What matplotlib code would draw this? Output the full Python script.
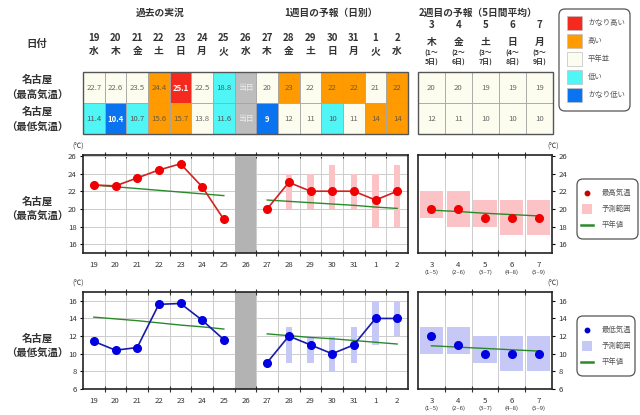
import numpy as np
import matplotlib
matplotlib.use("Agg")
import matplotlib.pyplot as plt
import matplotlib.transforms as mtransforms
from matplotlib.patches import Rectangle, FancyBboxPatch

plt.rcParams['font.family'] = ['Noto Sans CJK JP', 'DejaVu Sans']

nan = np.nan

# dates (daily part)
days = ['19', '20', '21', '22', '23', '24', '25', '26', '27', '28', '29', '30', '31', '1', '2']
weekdays = ['水', '木', '金', '土', '日', '月', '火', '水', '木', '金', '土', '日', '月', '火', '水']
# dates (2nd week, 5-day means)
w2_days = ['3', '4', '5', '6', '7']
w2_weekdays = ['木', '金', '土', '日', '月']
w2_periods = ['(1～\n5日)', '(2～\n6日)', '(3～\n7日)', '(4～\n8日)', '(5～\n9日)']
w2_ticks_sub = ['(1–5)', '(2–6)', '(3–7)', '(4–8)', '(5–9)']

# table values + classes
max_table = ['22.7', '22.6', '23.5', '24.4', '25.1', '22.5', '18.8', '当日', '20', '23', '22', '22', '22', '21', '22']
max_class = ['n', 'n', 'n', 'h', 'vh', 'n', 'l', 't', 'n', 'h', 'n', 'h', 'h', 'n', 'h']
min_table = ['11.4', '10.4', '10.7', '15.6', '15.7', '13.8', '11.6', '当日', '9', '12', '11', '10', '11', '14', '14']
min_class = ['l', 'vl', 'l', 'h', 'h', 'n', 'l', 't', 'vl', 'n', 'n', 'l', 'n', 'h', 'h']
w2_max_table = ['20', '20', '19', '19', '19']
w2_min_table = ['12', '11', '10', '10', '10']

# chart: max temperature
tmax = [22.7, 22.6, 23.5, 24.4, 25.1, 22.5, 18.8, nan, 20, 23, 22, 22, 22, 21, 22]
tmax_norm = [22.7, 22.5, 22.3, 22.1, 21.9, 21.7, 21.5, nan, 21.0, 20.85, 20.7, 20.55, 20.4, 20.2, 20.05]
tmax_lo = [nan, nan, nan, nan, nan, nan, nan, nan, nan, 20, 20, 20, 20, 18, 18]
tmax_hi = [nan, nan, nan, nan, nan, nan, nan, nan, nan, 24, 24, 25, 24, 24, 25]
w2_max = [20, 20, 19, 19, 19]
w2_max_lo = [19, 18, 18, 17, 17]
w2_max_hi = [22, 22, 21, 21, 21]
w2_max_norm = [19.85, 19.7, 19.5, 19.35, 19.2]

# chart: min temperature
tmin = [11.4, 10.4, 10.7, 15.6, 15.7, 13.8, 11.6, nan, 9, 12, 11, 10, 11, 14, 14]
tmin_norm = [14.15, 13.95, 13.75, 13.5, 13.25, 13.05, 12.8, nan, 12.25, 12.05, 11.85, 11.7, 11.5, 11.3, 11.1]
tmin_lo = [nan, nan, nan, nan, nan, nan, nan, nan, nan, 9, 9, 8, 9, 11, 12]
tmin_hi = [nan, nan, nan, nan, nan, nan, nan, nan, nan, 13, 12, 12, 13, 16, 16]
w2_min = [12, 11, 10, 10, 10]
w2_min_lo = [10, 10, 9, 8, 8]
w2_min_hi = [13, 13, 12, 12, 12]
w2_min_norm = [10.9, 10.75, 10.6, 10.45, 10.3]

legend_names = ['かなり高い', '高い', '平年並', '低い', 'かなり低い']
legend_cls = ['vh', 'h', 'n', 'l', 'vl']

cls_color = {'vh': '#f52a1f', 'h': '#ff9b00', 'n': '#fdfdef', 'l': '#50f5f5', 'vl': '#0a74f0', 't': '#bdbdbd'}
cls_text = {'vh': 'white', 'h': '#6a5a3a', 'n': '#666666', 'l': '#555555', 'vl': 'white', 't': '#eeeeee'}
GREEN = '#2a8a2a'
TXT = '#333333'

W, H = 640, 415
fig = plt.figure(figsize=(6.4, 4.15), dpi=100)


def px_axes(x0, y0, x1, y1):
    return fig.add_axes([x0 / W, 1 - y1 / H, (x1 - x0) / W, (y1 - y0) / H])


# overlay in pixel coords for free texts
ov = fig.add_axes([0, 0, 1, 1])
ov.set_xlim(0, W)
ov.set_ylim(H, 0)
ov.axis('off')


def draw_table(ax, rows, classes, n):
    ax.set_xlim(-0.5, n - 0.5)
    ax.set_ylim(2, 0)
    ax.axis('off')
    for r in range(2):
        for i in range(n):
            c = classes[r][i]
            ax.add_patch(Rectangle((i - 0.5, r), 1, 1, fc=cls_color[c], ec='#a5a5a5', lw=0.6))
            bold = c in ('vh', 'vl')
            ax.text(i, r + 0.52, rows[r][i], ha='center', va='center', fontsize=5.6,
                    color=cls_text[c], weight='bold' if bold else 'normal')
    ax.add_patch(Rectangle((-0.5, 0), n, 2, fill=False, ec='#555555', lw=1.0, clip_on=False))


# ---- tables ----
tb = px_axes(83, 72, 408, 134)
draw_table(tb, [max_table, min_table], [max_class, min_class], len(days))
tb2 = px_axes(418, 72, 553, 134)
draw_table(tb2, [w2_max_table, w2_min_table], [['n'] * 5, ['n'] * 5], len(w2_days))

tr1 = mtransforms.blended_transform_factory(tb.transData, ov.transData)
for i, (d, wd) in enumerate(zip(days, weekdays)):
    ov.text(i, 38, d, transform=tr1, ha='center', va='center', fontsize=7, weight='bold', color=TXT)
    ov.text(i, 51, wd, transform=tr1, ha='center', va='center', fontsize=7, weight='bold', color=TXT)

tr2 = mtransforms.blended_transform_factory(tb2.transData, ov.transData)
for i, (d, wd, p) in enumerate(zip(w2_days, w2_weekdays, w2_periods)):
    ov.text(i, 25, d, transform=tr2, ha='center', va='center', fontsize=7, weight='bold', color=TXT)
    ov.text(i, 42, wd, transform=tr2, ha='center', va='center', fontsize=7, weight='bold', color=TXT)
    ov.text(i, 58, p, transform=tr2, ha='center', va='center', fontsize=5, weight='bold', color=TXT,
            linespacing=1.3)

ov.text(160, 13, '過去の実況', ha='center', va='center', fontsize=7, weight='bold', color=TXT)
ov.text(331, 13, '1週目の予報（日別）', ha='center', va='center', fontsize=7, weight='bold', color=TXT)
ov.text(478, 13, '2週目の予報（5日間平均）', ha='center', va='center', fontsize=7, weight='bold', color=TXT)
ov.text(37, 44, '日付', ha='center', va='center', fontsize=7.5, weight='bold', color=TXT)
ov.text(37, 80, '名古屋', ha='center', va='center', fontsize=7.5, weight='bold', color=TXT)
ov.text(37, 95, '（最高気温）', ha='center', va='center', fontsize=7.5, weight='bold', color=TXT)
ov.text(37, 112, '名古屋', ha='center', va='center', fontsize=7.5, weight='bold', color=TXT)
ov.text(37, 127, '（最低気温）', ha='center', va='center', fontsize=7.5, weight='bold', color=TXT)
ov.text(37, 202, '名古屋', ha='center', va='center', fontsize=7.5, weight='bold', color=TXT)
ov.text(37, 216, '（最高気温）', ha='center', va='center', fontsize=7.5, weight='bold', color=TXT)
ov.text(37, 339, '名古屋', ha='center', va='center', fontsize=7.5, weight='bold', color=TXT)
ov.text(37, 353, '（最低気温）', ha='center', va='center', fontsize=7.5, weight='bold', color=TXT)

# colour legend
lg = px_axes(558, 8, 631, 112)
lg.set_xlim(0, 73)
lg.set_ylim(104, 0)
lg.axis('off')
lg.add_patch(FancyBboxPatch((1, 1), 71, 102, boxstyle='round,pad=0,rounding_size=6',
                            fc='white', ec='#555555', lw=0.9))
for k, (name, c) in enumerate(zip(legend_names, legend_cls)):
    yc = 15 + k * 18
    lg.add_patch(Rectangle((9, yc - 7), 15, 14, fc=cls_color[c], ec='#c0c0c0', lw=0.5))
    lg.text(30, yc, name, ha='left', va='center', fontsize=5.3, color='#555555')


# ---- charts ----
def style_axes(ax, n):
    x = np.arange(n)
    ax.set_xlim(-0.5, n - 0.5)
    ax.set_xticks(x)
    ax.set_xticks(np.arange(0.5, n - 0.5, 1), minor=True)
    ax.tick_params(axis='x', which='major', length=0, labelsize=5.6, pad=6, labelcolor=TXT)
    ax.tick_params(axis='x', which='minor', length=5, direction='inout', top=True, bottom=True,
                   width=0.8, color='#333333')
    ax.tick_params(axis='y', length=2.5, labelsize=5.6, pad=2, labelcolor=TXT, width=0.8)
    ax.grid(which='minor', axis='x', color='#cccccc', lw=0.7)
    for s in ax.spines.values():
        s.set_linewidth(1.2)
        s.set_color('#222222')
    ax.set_axisbelow(True)


def draw_daily(ax, vals, norm, lo, hi, line_c, mark_c, rng_c, ylim, yticks):
    x = np.arange(len(days))
    lo = np.array(lo)
    hi = np.array(hi)
    today = max_table.index('当日')
    ax.axvspan(today - 0.47, today + 0.47, color='#b3b3b3', lw=0, zorder=2)
    ax.bar(x, hi - lo, bottom=lo, width=0.28, color=rng_c, zorder=2)
    ax.plot(x, norm, color=GREEN, lw=1.0, zorder=3)
    ax.plot(x, vals, color=line_c, lw=1.2, marker='o', ms=5.5, mfc=mark_c, mec=mark_c, zorder=4)
    ax.set_ylim(*ylim)
    ax.set_yticks(yticks)
    style_axes(ax, len(days))
    ax.set_xticklabels(days)
    ax.grid(which='major', axis='y', color='#cccccc', lw=0.7)


def draw_week2(ax, vals, norm, lo, hi, mark_c, rng_c, ylim, yticks):
    x = np.arange(len(w2_days))
    lo = np.array(lo)
    hi = np.array(hi)
    ax.bar(x, hi - lo, bottom=lo, width=0.86, color=rng_c, zorder=2)
    ax.plot(x, norm, color=GREEN, lw=1.0, zorder=3)
    ax.plot(x, vals, ls='none', marker='o', ms=5.5, mfc=mark_c, mec=mark_c, zorder=4)
    ax.set_ylim(*ylim)
    ax.set_yticks(yticks)
    style_axes(ax, len(w2_days))
    ax.yaxis.tick_right()
    ax.set_xticklabels(w2_days)
    tr = mtransforms.blended_transform_factory(ax.transData, ax.transAxes)
    for i, s in enumerate(w2_ticks_sub):
        ax.text(i, -0.195, s, transform=tr, ha='center', va='center', fontsize=4.3, color=TXT)


def draw_chart_legend(box, mark_c, rng_c, label):
    x0, y0, x1, y1 = box
    la = px_axes(x0, y0, x1, y1)
    w, h = x1 - x0, y1 - y0
    la.set_xlim(0, w)
    la.set_ylim(h, 0)
    la.axis('off')
    la.add_patch(FancyBboxPatch((1, 1), w - 2, h - 2, boxstyle='round,pad=0,rounding_size=6',
                                fc='white', ec='#555555', lw=0.9))
    la.plot([11], [15], 'o', ms=3.2, color=mark_c)
    la.add_patch(Rectangle((6, 26), 10, 10, fc=rng_c, ec='none'))
    la.plot([5, 17], [47, 47], color=GREEN, lw=1.8)
    for yy, t in zip([15, 31, 47], [label, '予測範囲', '平年値']):
        la.text(26, yy, t, ha='left', va='center', fontsize=5.3, color='#555555')


ax1 = px_axes(83, 155, 408, 253)
draw_daily(ax1, tmax, tmax_norm, tmax_lo, tmax_hi, '#d42020', '#f00000', '#fbc3c5',
           (15, 26.1), [16, 18, 20, 22, 24, 26])
ax1b = px_axes(418, 155, 552, 253)
draw_week2(ax1b, w2_max, w2_max_norm, w2_max_lo, w2_max_hi, '#f00000', '#fbc3c5',
           (15, 26.1), [16, 18, 20, 22, 24, 26])
draw_chart_legend((576, 178, 639, 240), '#cc0000', '#fbc3c5', '最高気温')

ax2 = px_axes(83, 292, 408, 389)
draw_daily(ax2, tmin, tmin_norm, tmin_lo, tmin_hi, '#1a1aa8', '#0000e0', '#c6c8f6',
           (6, 17), [6, 8, 10, 12, 14, 16])
ax2b = px_axes(418, 292, 552, 389)
draw_week2(ax2b, w2_min, w2_min_norm, w2_min_lo, w2_min_hi, '#0000e0', '#c6c8f6',
           (6, 17), [6, 8, 10, 12, 14, 16])
draw_chart_legend((576, 315, 636, 377), '#0000cc', '#c6c8f6', '最低気温')

for yy in (147, 284):
    ov.text(78, yy, '(℃)', ha='center', va='center', fontsize=5, color=TXT)
    ov.text(553, yy, '(℃)', ha='center', va='center', fontsize=5, color=TXT)

fig.savefig('out.png', dpi=100)
